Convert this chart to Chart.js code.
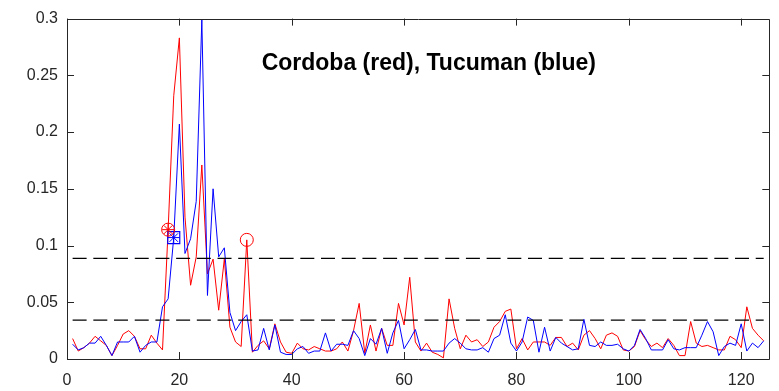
<!DOCTYPE html>
<html>
<head>
<meta charset="utf-8">
<script src="https://cdn.jsdelivr.net/npm/chart.js@4"></script>
<style>
  html, body { margin: 0; padding: 0; background: #fff; }
</style>
</head>
<body>
<canvas id="chart" width="779" height="391"></canvas>
<script>
// series (day 1..124)
const cordoba = [
  0.018, 0.007, 0.010, 0.014, 0.020, 0.016, 0.012, 0.003, 0.012, 0.022,
  0.025, 0.020, 0.009, 0.009, 0.021, 0.014, 0.008, 0.114, 0.232, 0.283,
  0.125, 0.065, 0.090, 0.171, 0.075, 0.088, 0.043, 0.088, 0.028, 0.015,
  0.011, 0.105, 0.006, 0.012, 0.016, 0.009, 0.031, 0.015, 0.006, 0.005,
  0.014, 0.009, 0.008, 0.011, 0.009, 0.007, 0.007, 0.009, 0.015, 0.007,
  0.025, 0.049, 0.005, 0.030, 0.007, 0.027, 0.012, 0.012, 0.049, 0.030,
  0.072, 0.015, 0.007, 0.014, 0.006, 0.004, 0.001, 0.053, 0.027, 0.009,
  0.021, 0.015, 0.017, 0.011, 0.015, 0.028, 0.033, 0.042, 0.044, 0.009,
  0.018, 0.008, 0.015, 0.015, 0.015, 0.012, 0.019, 0.019, 0.011, 0.014,
  0.008, 0.021, 0.025, 0.018, 0.009, 0.021, 0.023, 0.020, 0.008, 0.007,
  0.011, 0.025, 0.017, 0.011, 0.014, 0.010, 0.018, 0.012, 0.003, 0.003,
  0.033, 0.014, 0.011, 0.012, 0.010, 0.008, 0.008, 0.020, 0.017, 0.010,
  0.046, 0.027, 0.021, 0.016
];
const tucuman = [
  0.013, 0.008, 0.010, 0.014, 0.014, 0.020, 0.012, 0.003, 0.015, 0.015,
  0.015, 0.020, 0.006, 0.012, 0.015, 0.015, 0.046, 0.053, 0.107, 0.207,
  0.093, 0.106, 0.139, 0.299, 0.056, 0.150, 0.090, 0.098, 0.041, 0.025,
  0.033, 0.039, 0.007, 0.008, 0.027, 0.008, 0.030, 0.006, 0.004, 0.004,
  0.009, 0.011, 0.005, 0.007, 0.007, 0.023, 0.007, 0.013, 0.013, 0.012,
  0.025, 0.018, 0.003, 0.018, 0.013, 0.027, 0.005, 0.023, 0.034, 0.009,
  0.017, 0.026, 0.008, 0.008, 0.007, 0.007, 0.007, 0.014, 0.018, 0.014,
  0.009, 0.008, 0.008, 0.010, 0.006, 0.018, 0.021, 0.039, 0.014, 0.007,
  0.015, 0.037, 0.034, 0.006, 0.028, 0.007, 0.019, 0.014, 0.011, 0.008,
  0.009, 0.035, 0.012, 0.011, 0.015, 0.012, 0.012, 0.013, 0.009, 0.007,
  0.012, 0.026, 0.018, 0.008, 0.008, 0.008, 0.017, 0.009, 0.008, 0.010,
  0.010, 0.010, 0.021, 0.033, 0.024, 0.003, 0.011, 0.014, 0.012, 0.031,
  0.007, 0.014, 0.010, 0.016
];
const days = cordoba.map((v, i) => i + 1);

// dashed threshold levels
const thresholds = [0.0886, 0.0342];

// marked days
const redStarDays = [18];
const blueSquareDays = [19];
const redCircleDays = [32];

// axes
const xTicks = [0, 20, 40, 60, 80, 100, 120];
const yTicks = [0, 0.05, 0.1, 0.15, 0.2, 0.25, 0.3];
const yTickLabels = ['0', '0.05', '0.1', '0.15', '0.2', '0.25', '0.3'];
const titleText = 'Cordoba (red), Tucuman (blue)';

const axisColor = '#262626';
const fontFamily = '"Liberation Sans", Arial, sans-serif';

function pts(xs, ys) {
    return xs.map((x, i) => ({ x: x, y: ys[i] }));
}
function marks(dayList, series) {
    return dayList.map(d => ({ x: d, y: series[d - 1] }));
}

let datasets = [];

// markers on top
datasets.push({ data: marks(redStarDays, cordoba), showLine: false, pointStyle: 'star',
    pointRadius: 6, borderColor: '#ff0000', pointBorderWidth: 1, backgroundColor: 'transparent' });
datasets.push({ data: marks(redStarDays, cordoba), showLine: false, pointStyle: 'circle',
    pointRadius: 6.5, borderColor: '#ff0000', pointBorderWidth: 1, backgroundColor: 'transparent' });
datasets.push({ data: marks(blueSquareDays, tucuman), showLine: false, pointStyle: 'star',
    pointRadius: 6, borderColor: '#0000ff', pointBorderWidth: 1, backgroundColor: 'transparent' });
datasets.push({ data: marks(blueSquareDays, tucuman), showLine: false, pointStyle: 'rect',
    pointRadius: 8.5, borderColor: '#0000ff', pointBorderWidth: 1.2, backgroundColor: 'transparent' });
datasets.push({ data: marks(redCircleDays, cordoba), showLine: false, pointStyle: 'circle',
    pointRadius: 6.5, borderColor: '#ff0000', pointBorderWidth: 1, backgroundColor: 'transparent' });

thresholds.forEach(t => {
    datasets.push({
        data: [{ x: days[0], y: t }, { x: days[days.length - 1], y: t }],
        borderColor: '#000000', borderWidth: 1.3, borderDash: [14, 6.7],
        pointRadius: 0, fill: false
    });
});

datasets.push({ label: 'Tucuman', data: pts(days, tucuman), borderColor: '#0000ff',
    borderWidth: 1, pointRadius: 0, fill: false, tension: 0 });
datasets.push({ label: 'Cordoba', data: pts(days, cordoba), borderColor: '#ff0000',
    borderWidth: 1, pointRadius: 0, fill: false, tension: 0 });

// box with inward ticks, MATLAB style
const boxPlugin = {
    id: 'box',
    afterDraw(chart) {
        const { ctx, chartArea: a, scales } = chart;
        const len = 7;
        ctx.save();
        ctx.strokeStyle = axisColor;
        ctx.lineWidth = 1;
        ctx.beginPath();
        ctx.rect(Math.round(a.left) + 0.5, Math.round(a.top) + 0.5,
            Math.round(a.right - a.left), Math.round(a.bottom - a.top));
        xTicks.forEach(v => {
            const px = Math.round(scales.x.getPixelForValue(v)) + 0.5;
            ctx.moveTo(px, a.bottom); ctx.lineTo(px, a.bottom - len);
            ctx.moveTo(px, a.top); ctx.lineTo(px, a.top + len);
        });
        yTicks.forEach(v => {
            const py = Math.round(scales.y.getPixelForValue(v)) + 0.5;
            ctx.moveTo(a.left, py); ctx.lineTo(a.left + len, py);
            ctx.moveTo(a.right, py); ctx.lineTo(a.right - len, py);
        });
        ctx.stroke();
        ctx.restore();
    }
};

// text label inside the axes, placed in data units
const titlePlugin = {
    id: 'innerTitle',
    afterDatasetsDraw(chart) {
        const { ctx, scales } = chart;
        ctx.save();
        ctx.font = 'bold 23px ' + fontFamily;
        ctx.fillStyle = '#000000';
        ctx.textAlign = 'center';
        ctx.textBaseline = 'middle';
        ctx.fillText(titleText, scales.x.getPixelForValue(64.4), scales.y.getPixelForValue(0.2605));
        ctx.restore();
    }
};

const ctx = document.getElementById('chart');
const chart = new Chart(ctx, {
    type: 'line',
    data: { datasets: datasets },
    plugins: [boxPlugin, titlePlugin],
    options: {
        responsive: false,
        animation: false,
        devicePixelRatio: 1,
        layout: { padding: { left: 0, top: 17, right: 6, bottom: 0 } },
        plugins: { legend: { display: false }, tooltip: { enabled: false } },
        scales: {
            x: {
                type: 'linear', min: 0, max: 125,
                grid: { display: false, drawTicks: false },
                border: { display: false },
                afterBuildTicks: (s) => { s.ticks = xTicks.map(v => ({ value: v })); },
                afterFit: (s) => { s.height = 32; },
                ticks: { color: axisColor, padding: 12, maxRotation: 0,
                    font: { family: fontFamily, size: 16 } }
            },
            y: {
                type: 'linear', min: 0, max: 0.3,
                grid: { display: false, drawTicks: false },
                border: { display: false },
                afterBuildTicks: (s) => { s.ticks = yTicks.map(v => ({ value: v })); },
                afterFit: (s) => { s.width = 67; },
                ticks: { color: axisColor, padding: 9,
                    font: { family: fontFamily, size: 16 },
                    callback: (v) => yTickLabels[yTicks.indexOf(v)] }
            }
        }
    }
});
</script>
</body>
</html>
